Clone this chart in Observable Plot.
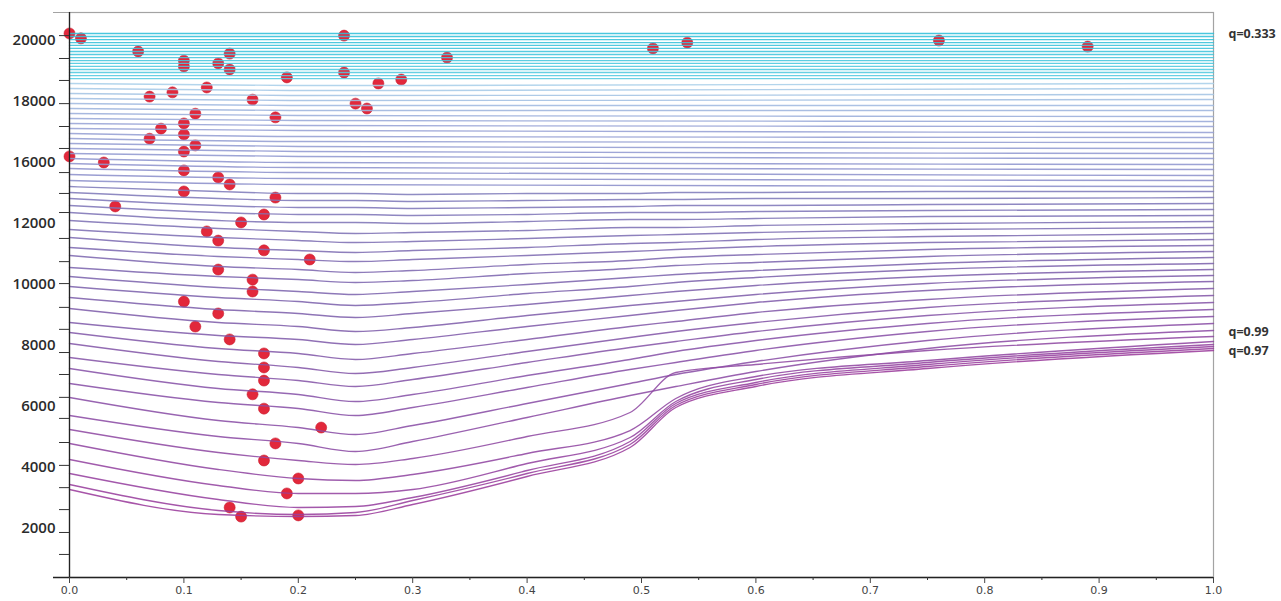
<!DOCTYPE html>
<html>
<head>
<meta charset="utf-8">
<script src="https://cdn.jsdelivr.net/npm/d3@7"></script>
<script src="https://cdn.jsdelivr.net/npm/@observablehq/plot@0.6"></script>
<style>
  html, body { margin: 0; padding: 0; background: #fff; }
  #chart svg { display: block; }
</style>
</head>
<body>
<div id="chart"></div>
<script>
// ---- y axis: labelled values, unlabelled minor ticks ----
const yTickValues = [2000, 4000, 6000, 8000, 10000, 12000, 16000, 18000, 20000];
const yMinorTicks = [20160, 19410, 18690, 17930, 17180, 16460, 15340, 13970, 12720, 11510, 10750,
  10030, 9250, 8530, 7770, 7050, 6300, 5610, 4820, 4070, 3340, 2620, 1870, 1150];
const yExtent = [394, 20918];
// the axis runs at half pitch between 12000 and 16000
const yBand = [12000, 16000];
const yBandPitch = 0.5;
function yWarp(v) {
  if (v <= yBand[0]) return v;
  if (v <= yBand[1]) return yBand[0] + (v - yBand[0]) * yBandPitch;
  return yBand[0] + (yBand[1] - yBand[0]) * yBandPitch + (v - yBand[1]);
}
function yUnwarp(w) {
  const top = yBand[0] + (yBand[1] - yBand[0]) * yBandPitch;
  if (w <= yBand[0]) return w;
  if (w <= top) return yBand[0] + (w - yBand[0]) / yBandPitch;
  return yBand[1] + (w - top);
}

// ---- x axis ----
const xTickValues = [0, 0.1, 0.2, 0.3, 0.4, 0.5, 0.6, 0.7, 0.8, 0.9, 1.0];
const xMinorTicks = [0.05, 0.15, 0.25, 0.35, 0.45, 0.55, 0.65, 0.75, 0.85, 0.95];

// ---- contour lines ----
// flat levels of the cyan band
const cyanLevels = [20230, 20130, 20030, 19930, 19840, 19740, 19640, 19540,
  19440, 19340, 19250, 19150, 19050, 18950, 18850, 18750];

// pale-blue levels, values at x = 0, 0.2, 1
const upperX = [0, 0.2, 1];
const upperLines = [
  [18590, 18524, 18590],
  [18426, 18360, 18426],
  [18262, 18196, 18229],
  [18098, 18032, 18065],
  [17934, 17868, 17868],
  [17770, 17704, 17704],
  [17606, 17540, 17508],
  [17442, 17377, 17344],
  [17278, 17213, 17180],
  [17114, 17049, 16983],
  [16950, 16852, 16819],
  [16786, 16688, 16655],
  [16622, 16524, 16459],
  [16459, 16360, 16295],
  [16295, 16196, 16131],
  [16131, 16000, 15868],
  [15933, 15671, 15540],
  [15606, 15343, 15147],
  [15212, 14950, 14819],
  [14819, 14556, 14425]
];

// purple levels (top to bottom), values at the lowerX positions
const lowerX = [0, 0.13, 0.2, 0.25, 0.3, 0.4, 0.49, 0.53, 0.6, 0.75, 1];
const lowerLines = [
  [14425, 14097, 13966, 13966, 13901, 13966, 13966, 14032, 14032, 14097, 14097],
  [14032, 13638, 13507, 13507, 13442, 13507, 13573, 13573, 13638, 13638, 13704],
  [13638, 13180, 13048, 13048, 12983, 13048, 13114, 13180, 13180, 13245, 13311],
  [13180, 12720, 12589, 12589, 12524, 12589, 12720, 12720, 12786, 12852, 12917],
  [12720, 12196, 12065, 12065, 12000, 12130, 12261, 12261, 12327, 12458, 12524],
  [12196, 11837, 11738, 11673, 11705, 11771, 11869, 11869, 11935, 12000, 12130],
  [11804, 11541, 11443, 11377, 11410, 11509, 11607, 11640, 11705, 11804, 11869],
  [11541, 11213, 11115, 11050, 11115, 11213, 11345, 11377, 11476, 11574, 11673],
  [11213, 10918, 10820, 10754, 10820, 10951, 11082, 11148, 11246, 11377, 11476],
  [10951, 10591, 10492, 10394, 10459, 10656, 10787, 10886, 10984, 11148, 11279],
  [10558, 10263, 10164, 10066, 10132, 10361, 10525, 10623, 10722, 10918, 11082],
  [10263, 9902, 9771, 9673, 9771, 10000, 10230, 10328, 10459, 10689, 10886],
  [9935, 9574, 9443, 9312, 9410, 9705, 9935, 10066, 10230, 10492, 10689],
  [9574, 9181, 9050, 8919, 9050, 9345, 9640, 9771, 9968, 10263, 10492],
  [9214, 8754, 8623, 8459, 8591, 8984, 9312, 9443, 9673, 10033, 10296],
  [8754, 8328, 8197, 8033, 8197, 8623, 8984, 9148, 9410, 9804, 10099],
  [8426, 7902, 7738, 7542, 7738, 8197, 8623, 8787, 9083, 9509, 9869],
  [8066, 7476, 7279, 7082, 7279, 7804, 8263, 8459, 8754, 9246, 9640],
  [7607, 7050, 6853, 6656, 6886, 7443, 7935, 8132, 8459, 8984, 9410],
  [7246, 6591, 6394, 6164, 6394, 7017, 7542, 7804, 8164, 8722, 9181],
  [6755, 6131, 5935, 5705, 5968, 6624, 7214, 7443, 7837, 8459, 8951],
  [6296, 5541, 5312, 5082, 5377, 6099, 6755, 7050, 7476, 8164, 8722],
  [5705, 5017, 4788, 4525, 4853, 5640, 6361, 6656, 7148, 7902, 8492],
  [5246, 4492, 4230, 4099, 4296, 5017, 5804, 7115, 7378, 7837, 8296],
  [4788, 3935, 3640, 3574, 3771, 4460, 5213, 6263, 6984, 7509, 8132],
  [4263, 3410, 3148, 3148, 3279, 4132, 4984, 6164, 6886, 7443, 8033],
  [3804, 2951, 2689, 2721, 3017, 3902, 4853, 6099, 6787, 7378, 7968],
  [3443, 2590, 2459, 2525, 2918, 3804, 4755, 6033, 6722, 7312, 7902],
  [3279, 2459, 2394, 2426, 2787, 3705, 4656, 5968, 6656, 7246, 7837]
];

// ---- colour ramp by level index (top → bottom) ----
const colorLevelStops = [0, 15, 16, 24, 35, 36, 48, 57, 64];
const colorRange = ["#30bfd9", "#56cbe0", "#a8cfe9", "#97a3d6", "#8c8fcb", "#7f7cbb", "#7d63ad", "#8a4fa6", "#9b3c9c"];
const levelColor = d3.scaleLinear().domain(colorLevelStops).range(colorRange).interpolate(d3.interpolateRgb);

// ---- observations ----
const dotX = [0, 0.01, 0.06, 0.1, 0.1, 0.13, 0.14, 0.14, 0.19, 0.24, 0.24, 0.33, 0.51, 0.54, 0.76, 0.89,
  0.07, 0.09, 0.12, 0.16, 0.18, 0.11, 0.08, 0.07, 0.1, 0.1, 0.11, 0.1, 0, 0.03, 0.1, 0.13, 0.14, 0.1,
  0.18, 0.04, 0.17, 0.15, 0.12, 0.13, 0.17, 0.21, 0.13, 0.16, 0.16, 0.1, 0.13, 0.11, 0.14, 0.17, 0.17,
  0.17, 0.16, 0.17, 0.22, 0.18, 0.17, 0.2, 0.19, 0.14, 0.15, 0.2, 0.27, 0.29, 0.25, 0.26];
const dotY = [20230, 20070, 19640, 19340, 19150, 19250, 19570, 19050, 18790, 20160, 18950, 19440, 19740, 19930, 20000, 19800,
  18160, 18300, 18460, 18060, 17480, 17600, 17110, 16780, 17280, 16920, 16560, 16360, 16200, 16000, 15480, 15020, 14560, 14100,
  13700, 13120, 12590, 12070, 11740, 11440, 11120, 10820, 10490, 10160, 9770, 9440, 9050, 8620, 8200, 7740, 7280,
  6850, 6400, 5930, 5310, 4790, 4230, 3640, 3150, 2690, 2390, 2430, 18590, 18720, 17930, 17770];

// ---- right-hand level captions ----
const qLabels = ["q=0.333", "q=0.99", "q=0.97"];
const qLabelLevels = [cyanLevels[0], lowerLines[22][lowerLines[22].length - 1], lowerLines[28][lowerLines[28].length - 1]];

// assemble the long table of contour vertices
const contours = [];
cyanLevels.forEach((v, i) => {
  contours.push({level: i, x: 0, y: v}, {level: i, x: 1, y: v});
});
upperLines.forEach((row, j) => {
  row.forEach((v, k) => contours.push({level: cyanLevels.length + j, x: upperX[k], y: v}));
});
lowerLines.forEach((row, j) => {
  row.forEach((v, k) => contours.push({level: cyanLevels.length + upperLines.length + j, x: lowerX[k], y: v}));
});
contours.forEach(d => { d.color = levelColor(d.level); });

const dots = dotX.map((x, i) => ({x, y: dotY[i]}));
const qRows = qLabels.map((label, i) => ({label, x: 1, y: qLabelLevels[i]}));

// axis marks take positions in the warped space, labels read back the value
const yLabelTicks = yTickValues.map(yWarp);
const yMinorTickPos = yMinorTicks.map(yWarp);

const chart = Plot.plot({
  width: 1281,
  height: 601,
  marginLeft: 69,
  marginRight: 68,
  marginTop: 12,
  marginBottom: 24,
  style: {background: "#fff", color: "#2b2b2b", fontFamily: "Open Sans, sans-serif"},
  x: {domain: [0, 1], axis: null, label: null},
  y: {transform: yWarp, domain: yExtent.map(yWarp), axis: null, label: null},
  marks: [
    Plot.frame({stroke: "#a3a3a3", strokeWidth: 1.2}),
    Plot.ruleY([yExtent[1]], {stroke: "#a3a3a3", strokeWidth: 1.2, insetLeft: -16}),
    Plot.dot(dots, {x: "x", y: "y", r: 5.5, fill: "#e2283b", stroke: "#c91f31", strokeWidth: 0.6}),
    Plot.line(contours, {x: "x", y: "y", z: "level", stroke: "color", strokeWidth: 1.35,
      strokeOpacity: 0.88, curve: "monotone-x"}),
    Plot.ruleX([0], {stroke: "#222", strokeWidth: 1.3}),
    Plot.ruleY([yExtent[0]], {stroke: "#222", strokeWidth: 1.3, insetLeft: -16}),
    Plot.axisY({ticks: yMinorTickPos, tickSize: 10, tickFormat: () => "", label: null, color: "#333"}),
    Plot.axisY({ticks: yLabelTicks, tickSize: 0, tickPadding: 14,
      tickFormat: w => String(Math.round(yUnwarp(w))), label: null,
      fontSize: 15, fontWeight: 600, fontFamily: "Open Sans", color: "#2b2b2b"}),
    Plot.axisX({ticks: xMinorTicks, tickSize: 3, tickFormat: () => "", label: null, color: "#333"}),
    Plot.axisX({ticks: xTickValues, tickSize: 6, tickPadding: 3, tickFormat: d3.format(".1f"), label: null,
      fontSize: 11, fontFamily: "DejaVu Sans", color: "#444"}),
    Plot.text(qRows, {x: "x", y: "y", text: "label", dx: 15, dy: 1, textAnchor: "start",
      fontSize: 12.5, fontWeight: "bold", fontFamily: "Open Sans", fill: "#333"})
  ]
});

document.getElementById("chart").appendChild(chart);
</script>
</body>
</html>
